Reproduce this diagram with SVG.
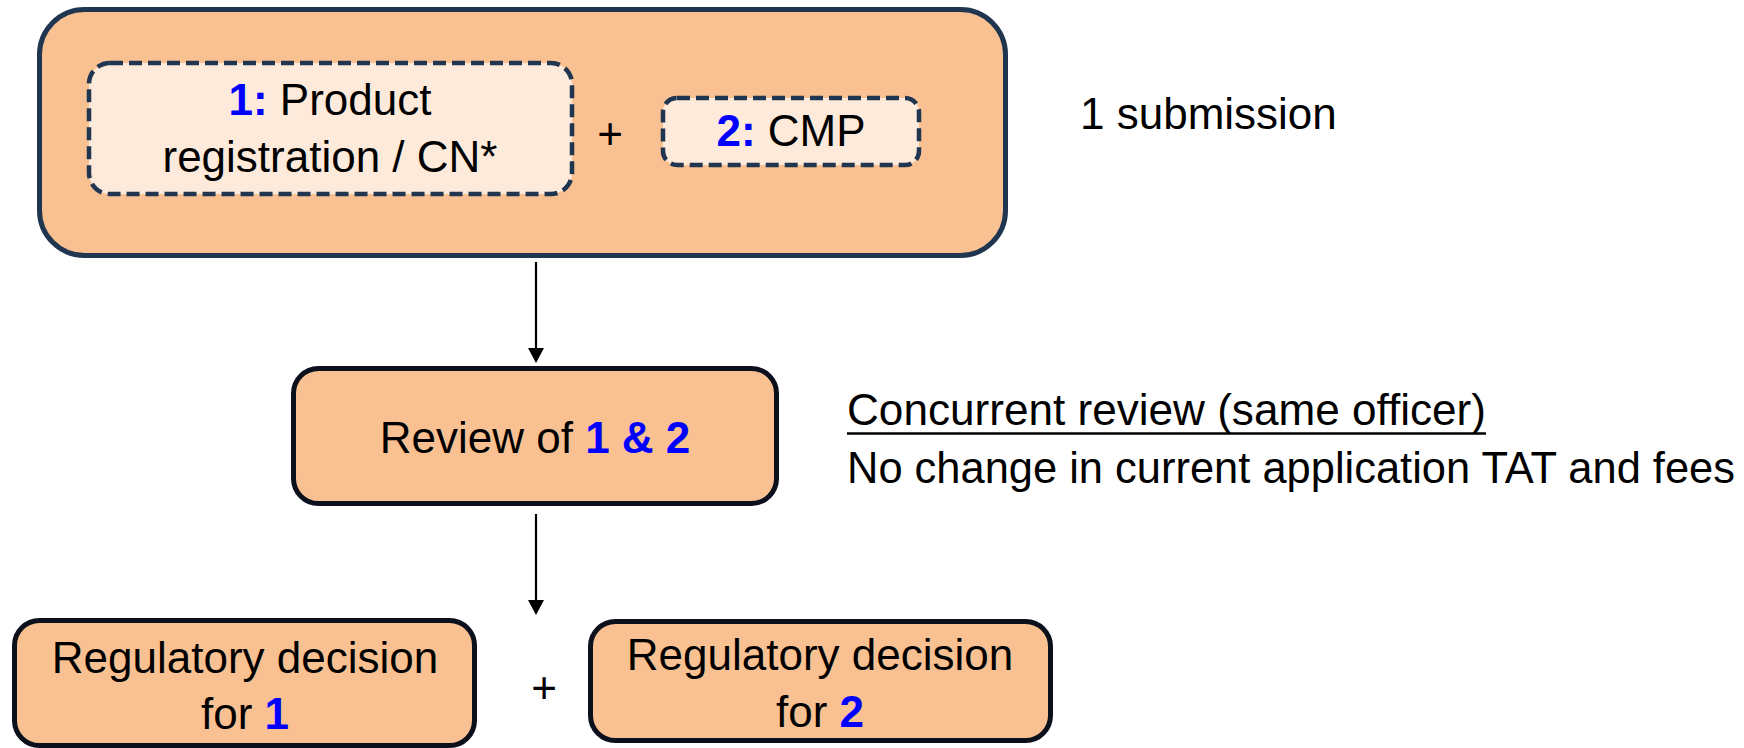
<svg xmlns="http://www.w3.org/2000/svg" width="1744" height="748" viewBox="0 0 1744 748">
<style>
  text { font-family: "Liberation Sans", Arial, sans-serif; font-size: 44px; fill: #000; }
  .c { text-anchor: middle; }
  .num { fill: #0000ff; font-weight: bold; }
  .outer { fill: #f9c191; stroke: #1f3550; stroke-width: 5; }
  .dash { fill: #fdeadb; stroke: #1f3550; stroke-width: 4.5; stroke-dasharray: 13 6; }
  .box { fill: #f9c191; stroke: #0b101c; stroke-width: 5; }
  .conn line { stroke: #000; stroke-width: 2.2; }
  .conn polygon { fill: #000; }
</style>
<rect width="1744" height="748" fill="#ffffff"/>

<g id="submission">
  <rect class="outer" x="39.5" y="9.5" width="966" height="246" rx="45" ry="45"/>
  <g id="product-registration">
    <rect class="dash" x="89" y="63" width="483" height="131" rx="21" ry="21"/>
    <text class="c" x="330" y="115"><tspan class="num">1:</tspan> Product</text>
    <text class="c" x="330" y="172">registration / CN*</text>
  </g>
  <text class="c" x="610" y="149">+</text>
  <g id="cmp">
    <rect class="dash" x="663" y="98" width="256" height="67" rx="14" ry="14"/>
    <text class="c" x="791" y="146"><tspan class="num">2:</tspan> CMP</text>
  </g>
</g>
<text x="1080" y="129">1 submission</text>

<g id="review">
  <rect class="box" x="293.5" y="368.5" width="483" height="135" rx="25" ry="25"/>
  <text class="c" x="535" y="453">Review of <tspan class="num">1 &amp; 2</tspan></text>
</g>
<g id="review-note">
  <text x="847" y="425" textLength="639" lengthAdjust="spacingAndGlyphs">Concurrent review (same officer)</text>
  <line x1="847" y1="433.5" x2="1486" y2="433.5" stroke="#000" stroke-width="2.5"/>
  <text x="847" y="483" textLength="888" lengthAdjust="spacingAndGlyphs">No change in current application TAT and fees</text>
</g>

<g id="decision-1">
  <rect class="box" x="14.5" y="620.5" width="460" height="125" rx="25" ry="25"/>
  <text class="c" x="245" y="673">Regulatory decision</text>
  <text class="c" x="245" y="729">for <tspan class="num">1</tspan></text>
</g>
<text class="c" x="544" y="703">+</text>
<g id="decision-2">
  <rect class="box" x="590.5" y="621.5" width="460" height="119" rx="25" ry="25"/>
  <text class="c" x="820" y="670">Regulatory decision</text>
  <text class="c" x="820" y="727">for <tspan class="num">2</tspan></text>
</g>

<g id="connectors" class="conn">
  <line x1="536" y1="262" x2="536" y2="350"/>
  <polygon points="528,348 544,348 536,363"/>
  <line x1="536" y1="514" x2="536" y2="602"/>
  <polygon points="528,600 544,600 536,615"/>
</g>
</svg>
